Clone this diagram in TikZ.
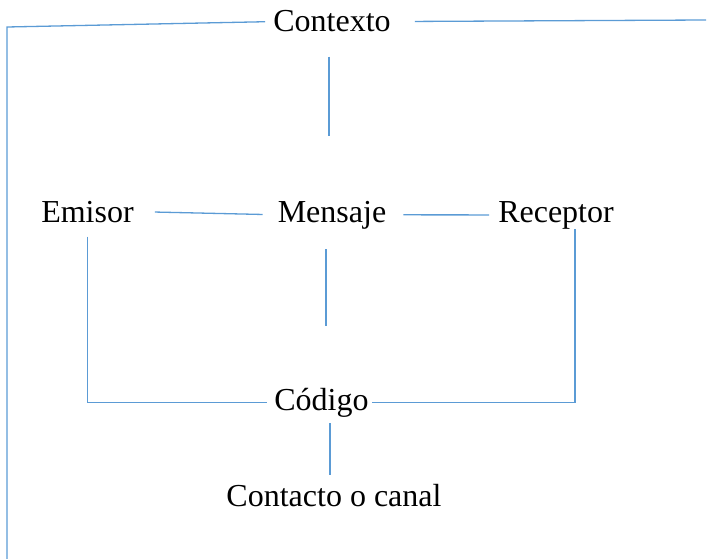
\documentclass[tikz,border=0pt]{standalone}
\usepackage{fontspec}
\setmainfont{Liberation Serif}
\usepackage{xcolor}
\usetikzlibrary{calc}
\definecolor{linkblue}{HTML}{5B9BD5}
\tikzset{
  term/.style={inner sep=0pt, anchor=base, font=\fontsize{32}{36}\selectfont},
  link/.style={draw=linkblue, line width=1.3pt},
}

\begin{document}
\begin{tikzpicture}[x=1pt, y=-1pt]
  \useasboundingbox (0,0) rectangle (709,559);
  % the six terms
  \node[term] (contexto) at (332,32) {Contexto};
  \node[term] (emisor) at (87.5,222) {Emisor};
  \node[term] (mensaje) at (332,222) {Mensaje};
  \node[term] (receptor) at (556,222) {Receptor};
  \node[term] (codigo) at (321.5,410) {Código};
  \node[term] (contacto) at (334,506) {Contacto o canal};
  % free ends of the long frame lines
  \coordinate (topleft) at (7,27);
  \coordinate (botleft) at (7,559);
  \coordinate (topright) at (706,20);
  % frame round the whole scheme
  \draw[link, shorten <=8pt] (contexto.west) -- (topleft) -- (botleft);
  \draw[link, shorten <=24pt] (contexto.east) -- (topright);
  % vertical links
  \draw[link, shorten <=24pt, shorten >=65pt] ([xshift=-3pt]contexto.south) -- ([xshift=-3pt]mensaje.north);
  \draw[link, shorten <=20pt, shorten >=62pt] ([xshift=-6pt]mensaje.south) -- ([xshift=-6pt]mensaje.south |- codigo.north);
  \draw[link, shorten <=6pt, shorten >=9pt] ([xshift=-4pt]contacto.north |- codigo.south) -- ([xshift=-4pt]contacto.north);
  % horizontal links
  \draw[link, shorten <=21pt, shorten >=15pt] (emisor.east) -- (mensaje.west);
  \draw[link, shorten <=17pt, shorten >=9pt] (mensaje.east) -- (receptor.west);
  % brackets down to the code
  \draw[link, shorten <=14pt, shorten >=7pt] (emisor.south) |- (codigo.west);
  \draw[link, shorten >=3pt] ([xshift=19pt]receptor.south) |- (codigo.east);
\end{tikzpicture}
\end{document}
